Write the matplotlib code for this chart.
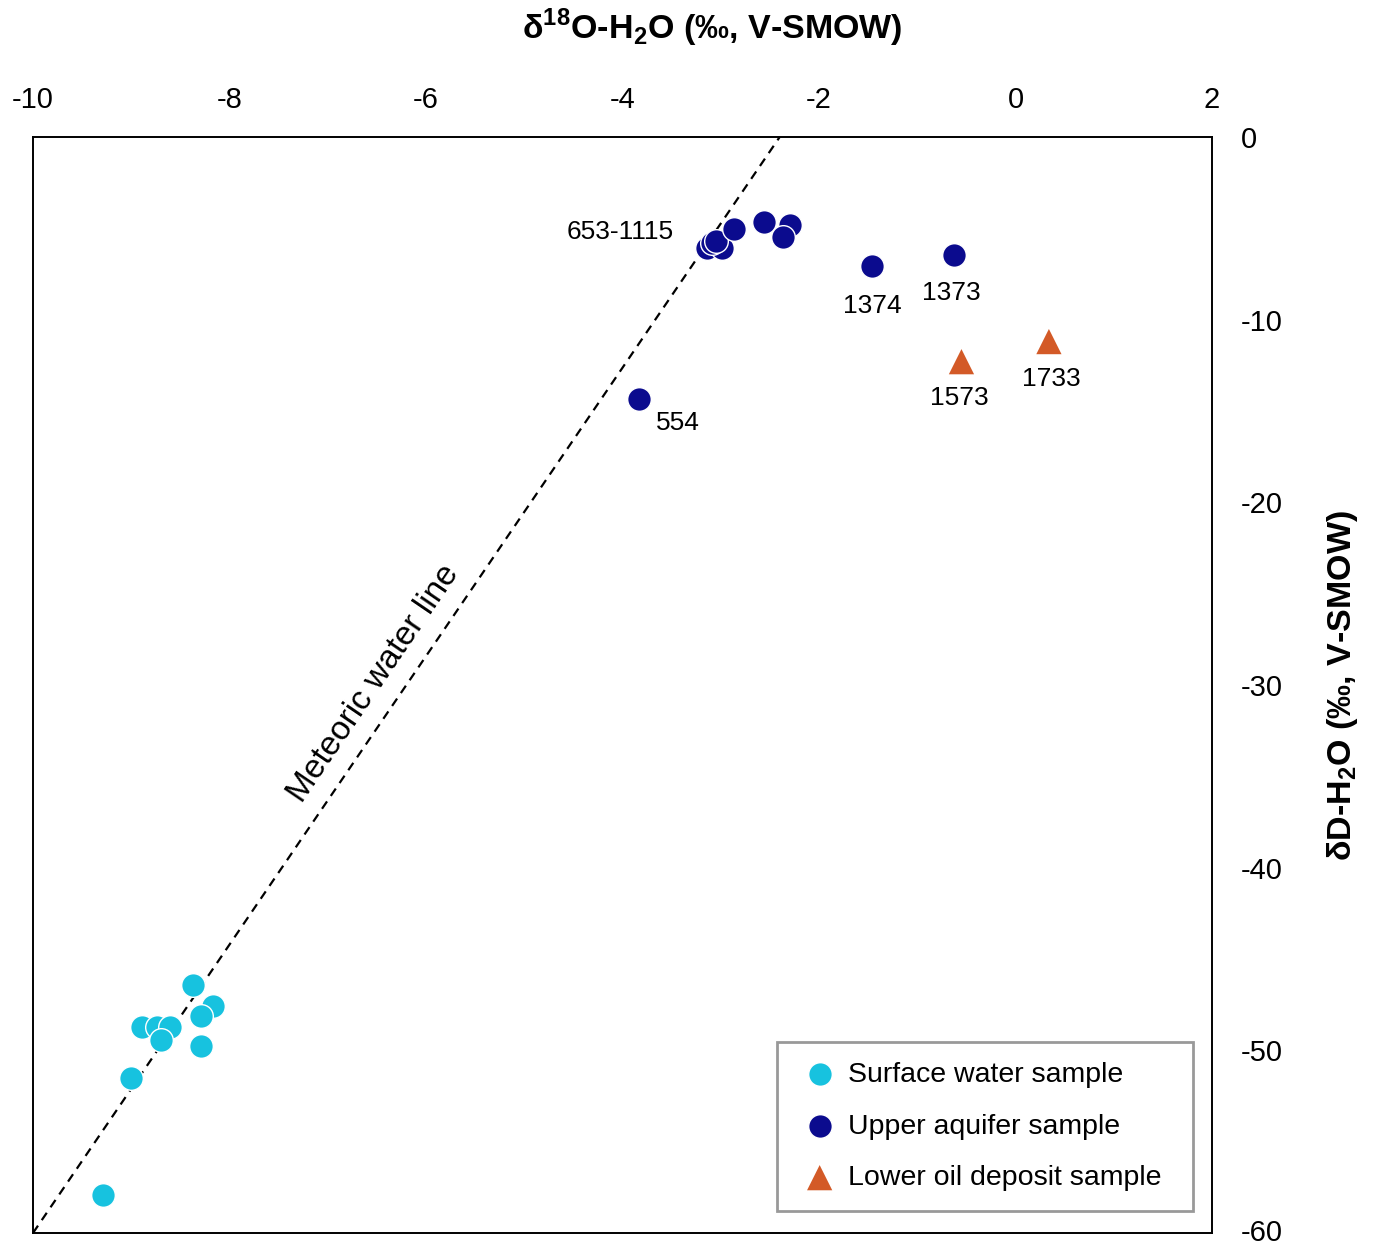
import matplotlib
matplotlib.use("Agg")
import matplotlib.pyplot as plt
import matplotlib.transforms as mtransforms
import numpy as np

plt.rcParams['font.family'] = ['Liberation Sans', 'DejaVu Sans']
plt.rcParams['mathtext.fontset'] = 'custom'
plt.rcParams['mathtext.rm'] = 'Liberation Sans'
plt.rcParams['mathtext.bf'] = 'Liberation Sans:bold'
plt.rcParams['axes.unicode_minus'] = False

# ---- data ----
surface_d18O = [-8.37, -8.17, -8.29, -8.89, -8.74, -8.61, -8.70, -8.29, -9.00, -9.29]
surface_dD = [-46.45, -47.56, -48.11, -48.7, -48.7, -48.7, -49.46, -49.79, -51.49, -57.91]

upper_d18O = [-3.14, -2.99, -3.09, -3.05, -2.87, -2.56, -2.30, -2.37, -1.46, -0.63, -3.83]
upper_dD = [-6.09, -6.09, -5.82, -5.70, -5.05, -4.63, -4.82, -5.49, -7.04, -6.48, -14.34]

oil_d18O = [-0.55, 0.34]
oil_dD = [-12.3, -11.2]

mwl_d18O = [-10.0, -2.40]
mwl_dD = [-60.0, 0.0]

labels_text = ['653-1115', '554', '1374', '1373', '1573', '1733']
labels_x = [-3.14, -3.83, -1.46, -0.63, -0.55, 0.34]
labels_y = [-6.09, -14.34, -7.04, -6.48, -12.3, -11.2]
labels_off = [(-87, 16), (39, -24), (0, -40), (-2, -38), (-2, -36), (2, -37)]

x_ticks = [-10, -8, -6, -4, -2, 0, 2]
y_ticks = [0, -10, -20, -30, -40, -50, -60]

c_surface = '#17C2DF'
c_upper = '#0B0B8E'
c_oil = '#D35A27'

W, H = 1377, 1247
fig = plt.figure(figsize=(W / 100, H / 100), dpi=100)
ax = fig.add_axes([33 / W, 1 - 1233 / H, (1212 - 33) / W, (1233 - 137) / H])

ax.set_xlim(-10, 2)
ax.set_ylim(-60, 0)

ax.plot(mwl_d18O, mwl_dD, linestyle=(0, (4, 3)), color='black', lw=1.6, zorder=1)

ax.scatter(surface_d18O, surface_dD, s=290, color=c_surface, edgecolors='white',
           linewidths=1.0, zorder=3, label='Surface water sample')
ax.scatter(upper_d18O, upper_dD, s=290, color=c_upper, edgecolors='white',
           linewidths=1.0, zorder=3, label='Upper aquifer sample')
ax.scatter(oil_d18O, oil_dD, s=330, marker='^', color=c_oil, edgecolors='none',
           zorder=3, label='Lower oil deposit sample')

for t, x, y, off in zip(labels_text, labels_x, labels_y, labels_off):
    ax.annotate(t, xy=(x, y), xytext=off, textcoords='offset pixels',
                ha='center', va='center', fontsize=19, color='black')

# meteoric water line label
mx = 0.5 * (mwl_d18O[0] + mwl_d18O[1])
my = 0.5 * (mwl_dD[0] + mwl_dD[1])
p0 = ax.transData.transform((mwl_d18O[0], mwl_dD[0]))
p1 = ax.transData.transform((mwl_d18O[1], mwl_dD[1]))
ang = np.degrees(np.arctan2(p1[1] - p0[1], p1[0] - p0[0]))
ax.annotate('Meteoric water line', xy=(mx, my), xytext=(-33, 1), textcoords='offset pixels',
            ha='center', va='center', rotation=ang, rotation_mode='anchor', fontsize=24)

# axes / ticks
ax.xaxis.tick_top()
ax.yaxis.tick_right()
ax.set_xticks(x_ticks)
ax.set_xticklabels([str(v) for v in x_ticks])
ax.set_yticks(y_ticks)
ax.set_yticklabels([str(v) for v in y_ticks])
ax.tick_params(axis='x', length=0, pad=16.5, labelsize=21)
ax.tick_params(axis='y', length=0, pad=20.5, labelsize=21)
for s in ax.spines.values():
    s.set_linewidth(1.4)
    s.set_color('black')

fig.text(712 / W, 1 - 28 / H, r'δ$^{\mathbf{18}}$O-H$_{\mathbf{2}}$O (‰, V-SMOW)',
         ha='center', va='center', fontsize=24.5, fontweight='bold')
fig.text(1342 / W, 1 - 686 / H, r'δD-H$_{\mathbf{2}}$O (‰, V-SMOW)',
         ha='center', va='center', rotation=90, fontsize=24.5, fontweight='bold')

leg = ax.legend(loc='lower left', bbox_to_anchor=(0.6310, 0.020, 0.3528, 0.1), mode='expand',
                borderaxespad=0, prop={'size': 20.5}, frameon=True, fancybox=False,
                labelspacing=0.9, handletextpad=0.2, borderpad=0.7, handlelength=1.6,
                scatterpoints=1)
leg.get_frame().set_edgecolor('#808080')
leg.get_frame().set_linewidth(2)

# keep the bottom y tick label inside the figure
fig.canvas.draw()
for tk in ax.yaxis.get_major_ticks():
    if tk.label2.get_text() == '-60':
        tk.label2.set_transform(tk.label2.get_transform() +
                                mtransforms.ScaledTranslation(0, 2 / 72, fig.dpi_scale_trans))

fig.savefig('out.png', dpi=100)
